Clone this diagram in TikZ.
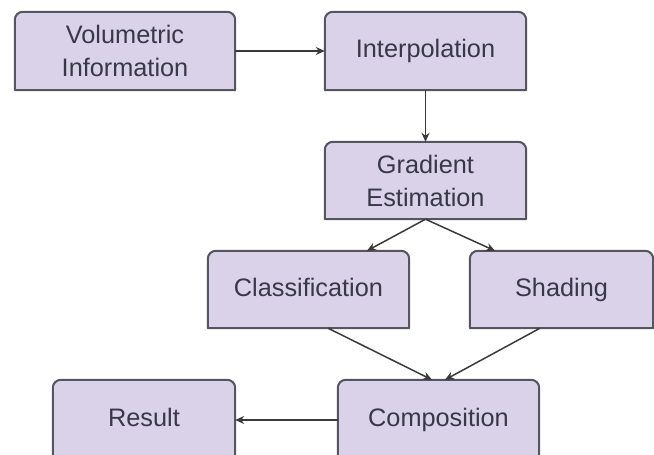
\documentclass[tikz,border=0pt]{standalone}
\usepackage{fontspec}
\setmainfont{Liberation Sans}
\usetikzlibrary{arrows.meta,backgrounds}
\definecolor{boxfill}{HTML}{D9D2E9}
\definecolor{boxline}{HTML}{555560}
\definecolor{txt}{HTML}{383846}
\definecolor{arrowc}{HTML}{3A3A3A}
\tikzset{
  box/.style={inner sep=0pt, align=center, text=txt,
    font=\fontsize{25.3}{33}\selectfont},
  oneline/.style={text height=18pt, text depth=4pt},
  boxshape/.style={fill=boxfill, draw=boxline, line width=2pt, line join=round},
  link/.style={draw=arrowc, line width=1.5pt, -{Stealth[length=9pt,width=8pt]}}
}
\begin{document}
\begin{tikzpicture}[x=1pt,y=1pt]
\useasboundingbox (0,0) rectangle (654,455);
\clip (0,0) rectangle (654,455);
\node[box, minimum width=220pt, minimum height=78pt] (vol) at (125,404) {Volumetric\\Information};
\node[box, oneline, minimum width=201pt, minimum height=78pt] (interp) at (425.5,404) {Interpolation};
\node[box, minimum width=201pt, minimum height=77pt] (grad) at (425.5,274.5) {Gradient\\Estimation};
\node[box, oneline, minimum width=201pt, minimum height=77pt] (class) at (308.5,165.5) {Classification};
\node[box, oneline, minimum width=183pt, minimum height=77pt] (shade) at (561.5,165.5) {Shading};
\node[box, oneline, minimum width=201pt, minimum height=80pt] (comp) at (438.5,35) {Composition};
\node[box, oneline, minimum width=182pt, minimum height=80pt] (result) at (144,35) {Result};
\begin{scope}[on background layer]
\foreach \n in {vol,interp,grad,class,shade,comp,result}{
  \path[boxshape] (\n.south west) -- ([yshift=-8pt]\n.north west)
    arc[start angle=180,end angle=90,radius=8pt]
    -- ([xshift=-8pt]\n.north east)
    arc[start angle=90,end angle=0,radius=8pt]
    -- (\n.south east) -- cycle;
}
\end{scope}
\draw[link] (vol.east) -- (interp.west);
\draw[link] (interp.south) -- (grad.north);
\draw[link] (grad.south) -- ([xshift=58.5pt]class.north);
\draw[link] (grad.south) -- ([xshift=-66.5pt]shade.north);
\draw[link] ([xshift=19.5pt]class.south) -- ([xshift=-6.5pt]comp.north);
\draw[link] ([xshift=-21.5pt]shade.south) -- ([xshift=6.5pt]comp.north);
\draw[link] (comp.west) -- (result.east);
\end{tikzpicture}
\end{document}
